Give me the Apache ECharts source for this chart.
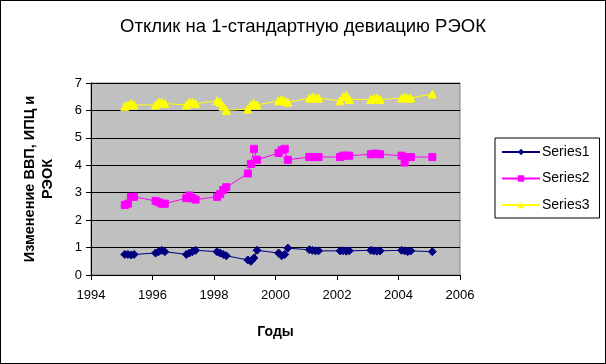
<!DOCTYPE html>
<html>
<head>
<meta charset="utf-8">
<script src="https://cdn.jsdelivr.net/npm/echarts@6/dist/echarts.min.js"></script>
<style>
  html, body { margin: 0; padding: 0; background: #fff; }
  #chart { width: 604px; height: 362px; border: 1px solid #000; }
</style>
</head>
<body>
<div id="chart"></div>
<script>
/* Отклик на 1-стандартную девиацию РЭОК */

// годы с кварталом: 1995.1 ... 2005.1
const periods = [
    1995.1, 1995.2, 1995.3, 1995.4, 1996.1, 1996.2, 1996.3, 1996.4,
    1997.1, 1997.2, 1997.3, 1997.4, 1998.1, 1998.2, 1998.3, 1998.4,
    1999.1, 1999.2, 1999.3, 1999.4, 2000.1, 2000.2, 2000.3, 2000.4,
    2001.1, 2001.2, 2001.3, 2001.4, 2002.1, 2002.2, 2002.3, 2002.4,
    2003.1, 2003.2, 2003.3, 2003.4, 2004.1, 2004.2, 2004.3, 2004.4,
    2005.1
];

const series1 = [
    0.75, 0.75, 0.73, 0.75, 0.80, 0.85, 0.90, 0.85,
    0.75, 0.80, 0.85, 0.90, 0.85, 0.80, 0.75, 0.70,
    0.55, 0.50, 0.62, 0.90, 0.80, 0.70, 0.75, 0.98,
    0.92, 0.90, 0.88, 0.88, 0.88, 0.88, 0.87, 0.88,
    0.90, 0.88, 0.87, 0.88, 0.90, 0.88, 0.85, 0.88,
    0.85
];

const series2 = [
    2.55, 2.60, 2.85, 2.85, 2.70, 2.65, 2.60, 2.60,
    2.80, 2.90, 2.80, 2.75, 2.85, 2.95, 3.10, 3.20,
    3.70, 4.05, 4.60, 4.20, 4.45, 4.55, 4.60, 4.20,
    4.30, 4.30, 4.30, 4.30, 4.30, 4.35, 4.35, 4.35,
    4.40, 4.42, 4.42, 4.40, 4.35, 4.10, 4.30, 4.30,
    4.30
];

const series3 = [
    6.15, 6.20, 6.25, 6.20, 6.20, 6.30, 6.30, 6.25,
    6.20, 6.30, 6.30, 6.25, 6.35, 6.30, 6.15, 6.00,
    6.05, 6.20, 6.25, 6.20, 6.35, 6.40, 6.35, 6.30,
    6.45, 6.50, 6.45, 6.45, 6.35, 6.50, 6.55, 6.40,
    6.40, 6.45, 6.45, 6.40, 6.45, 6.50, 6.45, 6.45,
    6.60
];

const seriesNames = ["Series1", "Series2", "Series3"];
const seriesColors = ["#000080", "#FF00FF", "#FFFF00"];
const seriesSymbols = ["diamond", "rect", "triangle"];
const seriesValues = [series1, series2, series3];

const xTicks = { min: 1994, max: 2006, interval: 2 };
const yTicks = { min: 0, max: 7, interval: 1 };

const font = "Arial, 'Liberation Sans', sans-serif";

const chart = echarts.init(document.getElementById("chart"));

chart.setOption({
    animation: false,
    textStyle: { fontFamily: font },
    title: {
        text: "Отклик на 1-стандартную девиацию РЭОК",
        left: "center",
        top: 11,
        textStyle: { fontFamily: font, fontSize: 18.5, fontWeight: "normal", color: "#000" },
    },
    legend: {
        orient: "vertical",
        left: 494,
        top: 137,
        width: 104,
        padding: [7, 10, 6, 6],
        itemGap: 12.5,
        itemWidth: 38,
        itemHeight: 8,
        backgroundColor: "#fff",
        borderColor: "#000",
        borderWidth: 1,
        borderRadius: 0,
        textStyle: { fontFamily: font, fontSize: 14, color: "#000", padding: [0, 0, 0, -3] },
        data: seriesNames,
    },
    grid: {
        left: 90,
        right: 145,
        top: 82,
        bottom: 88,
        show: true,
        backgroundColor: "#C0C0C0",
        borderColor: "#808080",
        borderWidth: 1,
    },
    xAxis: {
        type: "value",
        min: xTicks.min,
        max: xTicks.max,
        interval: xTicks.interval,
        name: "Годы",
        nameLocation: "middle",
        nameGap: 50,
        nameTextStyle: { fontFamily: font, fontSize: 14, fontWeight: "bold", color: "#000" },
        axisLine: { lineStyle: { color: "#000", width: 1 } },
        axisTick: { show: true, inside: false, length: 5, lineStyle: { color: "#000" } },
        axisLabel: { fontFamily: font, fontSize: 13, color: "#000", margin: 14, formatter: (v) => String(v) },
        splitLine: { show: false },
    },
    yAxis: {
        type: "value",
        min: yTicks.min,
        max: yTicks.max,
        interval: yTicks.interval,
        name: "Изменение ВВП, ИПЦ и\nРЭОК",
        nameLocation: "middle",
        nameGap: 34,
        nameTextStyle: { fontFamily: font, fontSize: 14.5, fontWeight: "bold", color: "#000", lineHeight: 18 },
        axisLine: { show: true, lineStyle: { color: "#000", width: 1 } },
        axisTick: { show: true, inside: false, length: 5, lineStyle: { color: "#000" } },
        axisLabel: { fontFamily: font, fontSize: 13, color: "#000", margin: 9 },
        splitLine: { show: true, lineStyle: { color: "#000", width: 1 } },
    },
    series: seriesNames.map((name, i) => ({
        name: name,
        type: "line",
        data: periods.map((p, j) => [p, seriesValues[i][j]]),
        symbol: seriesSymbols[i],
        symbolSize: i === 1 ? 7 : 8,
        showAllSymbol: true,
        lineStyle: { color: seriesColors[i], width: 1 },
        itemStyle: { color: seriesColors[i], borderColor: seriesColors[i] },
        emphasis: { disabled: true },
    })),
});
</script>
</body>
</html>
